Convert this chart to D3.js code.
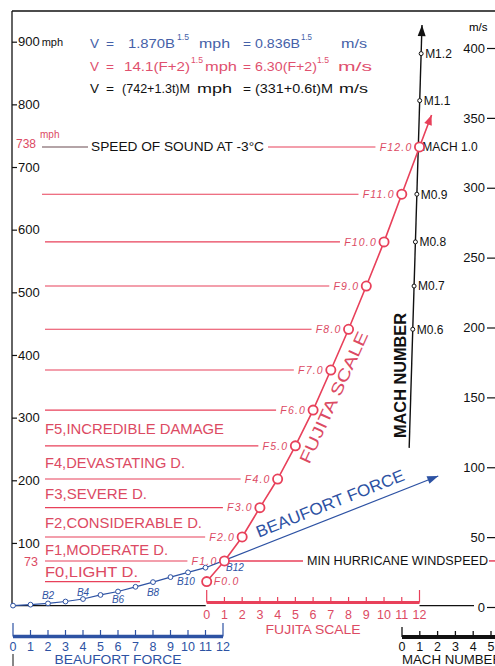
<!DOCTYPE html>
<html><head><meta charset="utf-8">
<script src="https://cdn.jsdelivr.net/npm/d3@7"></script>
<style>
body{margin:0;background:#fff;}
text{font-family:"Liberation Sans",Arial,sans-serif;}
</style></head><body>
<svg id="c" width="495" height="666"></svg>
<script>
// ---------- data ----------
const beaufortForce = [0,1,2,3,4,5,6,7,8,9,10,11,12];
const beaufortMph   = [0,1.5,3.5,6.5,10.5,17,22.5,30,37.5,45.5,53,60.5,71.3];
const beaufortLabeled = [2,4,6,8,10,12];
const fujitaF   = [0,1,2,3,4,5,6,7,8,9,10,11,12];
const fujitaMph = [38.3,71.3,109.6,156.3,202,255,312,376,441,510,580.5,656.6,732];
const damageLabels = ["F0,LIGHT D.","F1,MODERATE D.","F2,CONSIDERABLE D.","F3,SEVERE D.","F4,DEVASTATING D.","F5,INCREDIBLE DAMAGE"];
const machNumbers = [0.6,0.7,0.8,0.9,1.0,1.1,1.2];
const machMph     = [441,510,580.5,656.6,732,806,881];
const machAxisTicks = [0,1,2,3,4,5];
const mphTicks = [100,200,300,400,500,600,700,800,900];
const msTicks  = [0,50,100,150,200,250,300,350,400];
const speedOfSoundMph = 738;
const minHurricaneMph = 73;
const beaufortArrowEnd = {B:24.3, mph:206.8};
const fujitaArrowEnd = {F:12.68, mph:783};
const machAxisRange = [251.7, 926.6];
// [text, x, isSuperscript, width]
const formulas = [
  {color:"#4561a8", parts:[["V",90,0,9],["=",106,0,8],["1.870B",128,0,47],["1.5",177,1,12],["mph",199,0,31],["=",243,0,8],["0.836B",255,0,45],["1.5",301,1,11],["m/s",341,0,26]]},
  {color:"#e0506e", parts:[["V",90,0,9],["=",106,0,8],["14.1(F+2)",124,0,66],["1.5",191,1,12],["mph",205,0,32],["=",243,0,8],["6.30(F+2)",255,0,62],["1.5",317,1,12],["m/s",338,0,34]]},
  {color:"#111",    parts:[["V",90,0,9],["=",106,0,8],["(742+1.3t)M",122,0,68],["mph",197,0,35],["=",243,0,8],["(331+0.6t)M",255,0,78],["m/s",339,0,29]]}
];

// ---------- setup ----------
const RED="#e8405a", PINK="#dc4a63", BLUE="#2d52a3", BLACK="#111";
const svg = d3.select("#c");
const y  = d3.scaleLinear().domain([0,900]).range([605.6,41.7]);
const yMs = d3.scaleLinear().domain([0,400]).range([607,48]);
const xB = d3.scaleLinear().domain([0,12]).range([13,223]);
const xF = d3.scaleLinear().domain([0,12]).range([206.7,419.5]);
const xM = d3.scaleLinear().domain([0,5]).range([402,491]);
const machX = d3.scaleLinear().domain([296,926.6]).range([410,422]);

function arrowHead(g, x0,y0,x1,y1,len,hw,color){
  const dx=x1-x0, dy=y1-y0, L=Math.hypot(dx,dy), ux=dx/L, uy=dy/L;
  const bx=x1-ux*len, by=y1-uy*len;
  g.append("path").attr("d",`M${x1},${y1}L${bx-uy*hw},${by+ux*hw}L${bx+uy*hw},${by-ux*hw}Z`).attr("fill",color);
}

// frame
svg.append("line").attr("x1",12).attr("x2",495).attr("y1",11).attr("y2",11).attr("stroke",BLACK).attr("stroke-width",1.3);
svg.append("line").attr("x1",12).attr("x2",12).attr("y1",11).attr("y2",y(0)).attr("stroke",BLACK).attr("stroke-width",1.3);
svg.append("line").attr("x1",13).attr("x2",13).attr("y1",654).attr("y2",666).attr("stroke",BLACK).attr("stroke-width",1);

// left axis (mph)
const la = svg.append("g").attr("transform","translate(12,0)")
  .call(d3.axisRight(y).tickValues(mphTicks).tickSize(5).tickPadding(1).tickFormat(d=>d));
la.select(".domain").remove();
la.selectAll("line").attr("stroke",BLACK).attr("stroke-width",1.2);
la.selectAll("text").attr("font-size",13).attr("fill",BLACK).attr("font-family","Liberation Sans, Arial");
la.selectAll(".tick").filter(d=>d===900).select("text").append("tspan").attr("font-size",11).attr("dx",2).text("mph");

// right axis (m/s)
const ra = svg.append("g").attr("transform","translate(495,0)")
  .call(d3.axisLeft(yMs).tickValues(msTicks).tickSize(8).tickPadding(2).tickFormat(d=>d));
ra.select(".domain").remove();
ra.selectAll("line").attr("stroke",BLACK).attr("stroke-width",1.2);
ra.selectAll("text").attr("font-size",13).attr("fill",BLACK).attr("font-family","Liberation Sans, Arial");
svg.append("text").attr("x",469).attr("y",31).attr("font-size",11.5).text("m/s");

// formulas
formulas.forEach((f,i)=>{
  const base=[47.5,70.5,92.5][i];
  f.parts.forEach(p=>{
    svg.append("text").attr("x",p[1]).attr("y",p[2]?base-8:base)
      .attr("font-size",p[2]?9:13).attr("fill",f.color)
      .attr("textLength",p[3]).attr("lengthAdjust","spacingAndGlyphs").text(p[0]);
  });
});

// baseline
svg.append("line").attr("x1",13).attr("x2",xF(0)-1).attr("y1",y(0)).attr("y2",y(0)).attr("stroke",BLACK).attr("stroke-width",1.2);
svg.append("line").attr("x1",xF(12)).attr("x2",474).attr("y1",y(0)).attr("y2",y(0)).attr("stroke",BLACK).attr("stroke-width",1.2);

// Fujita horizontal level lines + labels
const fLabG = svg.append("g");
fujitaF.forEach((F,i)=>{
  const yy=y(fujitaMph[i]), mx=xF(F);
  if(F===0){
    fLabG.append("line").attr("x1",45).attr("x2",140).attr("y1",yy).attr("y2",yy).attr("stroke",RED).attr("stroke-width",1.1);
    fLabG.append("text").attr("x",mx+7).attr("y",yy).attr("dy","0.36em").attr("font-size",10.5).attr("font-style","italic")
      .attr("letter-spacing",1.2).attr("fill",PINK).text("F"+F+".0");
    return;
  }
  const t=fLabG.append("text").attr("x",mx-7).attr("y",yy).attr("dy","0.36em").attr("text-anchor","end")
    .attr("font-size",10.5).attr("font-style","italic").attr("letter-spacing",1.2).attr("fill",PINK).text("F"+F+".0");
  const w=t.node().getComputedTextLength()+1.2;
  const xEnd=mx-7-w-3;
  if(F===12){
    fLabG.append("line").attr("x1",42).attr("x2",88).attr("y1",yy).attr("y2",yy).attr("stroke","#6a4a50").attr("stroke-width",1.1);
    fLabG.append("text").attr("x",91).attr("y",yy).attr("dy","0.36em").attr("font-size",12.5).attr("fill",BLACK)
      .attr("textLength",173).attr("lengthAdjust","spacingAndGlyphs").text("SPEED OF SOUND AT -3°C");
    fLabG.append("line").attr("x1",268).attr("x2",xEnd).attr("y1",yy).attr("y2",yy).attr("stroke",RED).attr("stroke-width",1.1);
  } else {
    fLabG.append("line").attr("x1",F>=11?42:45).attr("x2",xEnd).attr("y1",yy).attr("y2",yy).attr("stroke",RED).attr("stroke-width",1.1);
  }
});

// 738 mph / 73 labels
svg.append("text").attr("x",16).attr("y",y(speedOfSoundMph)+5).attr("font-size",12).attr("fill",PINK).text(speedOfSoundMph);
svg.append("text").attr("x",40).attr("y",y(speedOfSoundMph)-5).attr("font-size",10).attr("fill",PINK).text("mph");
svg.append("text").attr("x",24).attr("y",y(fujitaMph[1])+5).attr("font-size",12.5).attr("fill",PINK).text(minHurricaneMph);

// damage labels
const dW=[93,123,157,102,140,179];
damageLabels.forEach((s,i)=>{
  const mid=(y(fujitaMph[i])+y(fujitaMph[i+1]))/2;
  svg.append("text").attr("x",45).attr("y",mid+6).attr("font-size",15).attr("fill",PINK)
    .attr("textLength",dW[i]).attr("lengthAdjust","spacingAndGlyphs").text(s);
});

// Min hurricane windspeed
{
  const yy=y(fujitaMph[1]);
  svg.append("line").attr("x1",xB(12)).attr("x2",303).attr("y1",yy).attr("y2",yy).attr("stroke",RED).attr("stroke-width",1.5);
  svg.append("text").attr("x",307).attr("y",yy).attr("dy","0.36em").attr("font-size",12.5).attr("fill",BLACK)
    .attr("textLength",181).attr("lengthAdjust","spacingAndGlyphs").text("MIN HURRICANE WINDSPEED");
  svg.append("line").attr("x1",489).attr("x2",495).attr("y1",yy).attr("y2",yy).attr("stroke",RED).attr("stroke-width",1.5);
}

// Mach axis
{
  const g=svg.append("g");
  const x0=machX(machAxisRange[0]), y0=y(machAxisRange[0]), x1=machX(machAxisRange[1]), y1=y(machAxisRange[1]);
  g.append("line").attr("x1",x0).attr("y1",y0).attr("x2",x1).attr("y2",y1).attr("stroke",BLACK).attr("stroke-width",1.4);
  arrowHead(g,x0,y0,x1,y1,11,4,BLACK);
  machNumbers.forEach((m,i)=>{
    const mx=machX(machMph[i]), my=y(machMph[i]);
    g.append("circle").attr("cx",mx).attr("cy",my).attr("r",2).attr("fill","#fff").attr("stroke",BLACK).attr("stroke-width",1);
    g.append("text").attr("x",mx+4).attr("y",my).attr("dy","0.36em").attr("font-size",12).attr("fill",BLACK)
      .text(m===1?"MACH 1.0":"M"+m.toFixed(1));
  });
  g.append("text").attr("transform","translate(400,375.5) rotate(-90)").attr("text-anchor","middle").attr("dy","0.36em")
    .attr("font-size",16).attr("font-weight","bold").attr("fill",BLACK)
    .attr("textLength",125).attr("lengthAdjust","spacingAndGlyphs").text("MACH NUMBER");
}

// Beaufort curve + arrow
{
  const g=svg.append("g");
  const pts=beaufortForce.map((b,i)=>[xB(b),y(beaufortMph[i])]);
  g.append("path").attr("d",d3.line()(pts)).attr("fill","none").attr("stroke",BLUE).attr("stroke-width",1.2);
  const s=pts[12], e=[xB(beaufortArrowEnd.B), y(beaufortArrowEnd.mph)];
  g.append("line").attr("x1",s[0]).attr("y1",s[1]).attr("x2",e[0]).attr("y2",e[1]).attr("stroke",BLUE).attr("stroke-width",1.2);
  arrowHead(g,s[0],s[1],e[0],e[1],11,4,BLUE);
  const dx=e[0]-s[0], dy=e[1]-s[1], L=Math.hypot(dx,dy), ux=dx/L, uy=dy/L;
  const cx=s[0]+120.8*ux+14.5*uy, cy=s[1]+120.8*uy-14.5*ux;
  g.append("text").attr("transform",`translate(${cx},${cy}) rotate(${Math.atan2(dy,dx)*180/Math.PI})`)
    .attr("text-anchor","middle").attr("dy","0.36em").attr("font-size",16.5).attr("fill",BLUE)
    .attr("textLength",158).attr("lengthAdjust","spacingAndGlyphs").text("BEAUFORT FORCE");
  pts.forEach(p=>g.append("circle").attr("cx",p[0]).attr("cy",p[1]).attr("r",2.4).attr("fill","#fff").attr("stroke",BLUE).attr("stroke-width",1));
  const off={2:[0,-8],4:[0,-7],6:[0,8],8:[0,10],10:[-2,9],12:[12,6]};
  beaufortLabeled.forEach(b=>{
    const p=pts[b];
    g.append("text").attr("x",p[0]+off[b][0]).attr("y",p[1]+off[b][1]).attr("dy","0.36em").attr("text-anchor","middle")
      .attr("font-size",10).attr("font-style","italic").attr("fill",BLUE).text("B"+b);
  });
}

// Fujita curve + arrow
{
  const g=svg.append("g");
  const pts=fujitaF.map((F,i)=>[xF(F),y(fujitaMph[i])]);
  const e=[xF(fujitaArrowEnd.F), y(fujitaArrowEnd.mph)];
  g.append("path").attr("d",d3.line()(pts.concat([e]))).attr("fill","none").attr("stroke",RED).attr("stroke-width",1.6);
  arrowHead(g,pts[12][0],pts[12][1],e[0],e[1],10,4,RED);
  pts.forEach(p=>g.append("circle").attr("cx",p[0]).attr("cy",p[1]).attr("r",4.6).attr("fill","#fff").attr("stroke",RED).attr("stroke-width",1.8));
  const p5=pts[5], p8=pts[8];
  const dx=p8[0]-p5[0], dy=p8[1]-p5[1], L=Math.hypot(dx,dy), ux=dx/L, uy=dy/L;
  const t=0.46, bx=pts[6][0]+(pts[7][0]-pts[6][0])*t, by=pts[6][1]+(pts[7][1]-pts[6][1])*t;
  const cx=bx-uy*13.5, cy=by+ux*13.5;
  g.append("text").attr("transform",`translate(${cx},${cy}) rotate(${Math.atan2(dy,dx)*180/Math.PI})`)
    .attr("text-anchor","middle").attr("dy","0.36em").attr("font-size",16.5).attr("fill",PINK)
    .attr("textLength",143).attr("lengthAdjust","spacingAndGlyphs").text("FUJITA SCALE");
}

// bottom Beaufort axis
{
  const g=svg.append("g"), yb=636.5;
  g.append("line").attr("x1",xB(0)).attr("x2",xB(12)).attr("y1",yb).attr("y2",yb).attr("stroke",BLUE).attr("stroke-width",3.5);
  beaufortForce.forEach(b=>{
    const end=(b===0||b===12);
    g.append("line").attr("x1",xB(b)).attr("x2",xB(b)).attr("y1",end?623:630).attr("y2",yb).attr("stroke",BLUE).attr("stroke-width",1.2);
    g.append("text").attr("x",xB(b)).attr("y",651).attr("text-anchor","middle").attr("font-size",12.5).attr("fill",BLUE).text(b);
  });
  g.append("text").attr("x",xB(6)).attr("y",663.5).attr("text-anchor","middle").attr("font-size",12.5).attr("fill",BLUE)
    .attr("textLength",127).attr("lengthAdjust","spacingAndGlyphs").text("BEAUFORT FORCE");
}
// bottom Fujita axis
{
  const g=svg.append("g"), yb=602.5;
  g.append("line").attr("x1",xF(0)).attr("x2",xF(12)).attr("y1",yb).attr("y2",yb).attr("stroke",RED).attr("stroke-width",2.8);
  fujitaF.forEach(F=>{
    const end=(F===0||F===12);
    g.append("line").attr("x1",xF(F)).attr("x2",xF(F)).attr("y1",end?590:597).attr("y2",yb).attr("stroke",RED).attr("stroke-width",1.2);
    g.append("text").attr("x",xF(F)).attr("y",619).attr("text-anchor","middle").attr("font-size",12.5).attr("fill",PINK).text(F);
  });
  g.append("text").attr("x",xF(6)).attr("y",633.5).attr("text-anchor","middle").attr("font-size",12.5).attr("fill",PINK)
    .attr("textLength",95).attr("lengthAdjust","spacingAndGlyphs").text("FUJITA SCALE");
}
// bottom Mach axis
{
  const g=svg.append("g"), yb=637;
  g.append("line").attr("x1",xM(0)).attr("x2",495).attr("y1",yb).attr("y2",yb).attr("stroke",BLACK).attr("stroke-width",4);
  machAxisTicks.forEach(m=>{
    g.append("line").attr("x1",xM(m)).attr("x2",xM(m)).attr("y1",m===0?627:631).attr("y2",yb).attr("stroke",BLACK).attr("stroke-width",1.3);
    g.append("text").attr("x",xM(m)).attr("y",651).attr("text-anchor","middle").attr("font-size",12.5).attr("fill",BLACK).text(m);
  });
  g.append("text").attr("x",402).attr("y",663.5).attr("font-size",12.5).attr("fill",BLACK)
    .attr("textLength",100).attr("lengthAdjust","spacingAndGlyphs").text("MACH NUMBER");
}
</script>
</body></html>
